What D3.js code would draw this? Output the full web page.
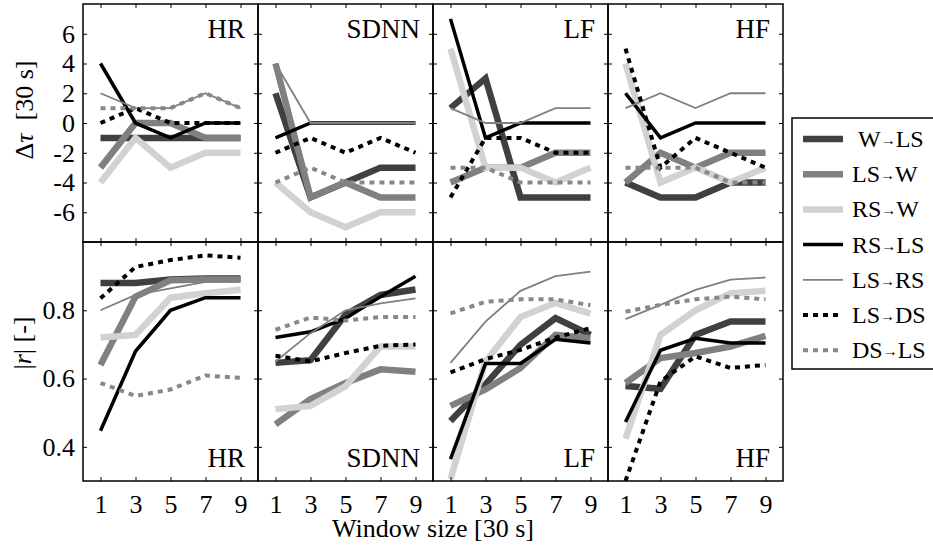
<!DOCTYPE html>
<html>
<head>
<meta charset="utf-8">
<script src="https://cdn.jsdelivr.net/npm/d3@7"></script>
<style>
  body { margin: 0; background: #fff; }
  .tick line { stroke: #000; stroke-width: 1; }
</style>
</head>
<body>
<div class="svg-container"></div>
<script>
// window sizes (x axis) and the four measures
var windows = [1, 3, 5, 7, 9];
var measures = ["HR", "SDNN", "LF", "HF"];
var series = ["W→LS", "LS→W", "RS→W", "RS→LS", "LS→RS", "LS→DS", "DS→LS"];

var tauTicks = [-6, -4, -2, 0, 2, 4, 6];
var rTicks = [0.4, 0.6, 0.8];

// delta tau [30 s], one row per series (same order as series)
var tauHR = [
  [-1, -1, -1, -1, -1],
  [-3, 0, 0, -1, -1],
  [-4, -1, -3, -2, -2],
  [4, 0, -1, 0, 0],
  [2, 1, 1, 2, 1],
  [0, 1, 0, 0, 0],
  [1, 1, 1, 2, 1]
];
var tauSDNN = [
  [2, -5, -4, -3, -3],
  [4, -5, -4, -5, -5],
  [-4, -6, -7, -6, -6],
  [-1, 0, 0, 0, 0],
  [4, 0, 0, 0, 0],
  [-2, -1, -2, -1, -2],
  [-4, -3, -4, -4, -4]
];
var tauLF = [
  [1, 3, -5, -5, -5],
  [-4, -3, -3, -2, -2],
  [5, -3, -3, -4, -3],
  [7, -1, 0, 0, 0],
  [1, 0, 0, 1, 1],
  [-5, -1, -1, -2, -2],
  [-3, -3, -4, -4, -4]
];
var tauHF = [
  [-4, -5, -5, -4, -4],
  [-4, -2, -3, -2, -2],
  [4, -4, -3, -4, -3],
  [2, -1, 0, 0, 0],
  [1, 2, 1, 2, 2],
  [5, -3, -1, -2, -3],
  [-3, -3, -3, -4, -4]
];

// |r| [-]
var rHR = [
  [0.88, 0.88, 0.89, 0.893, 0.893],
  [0.64, 0.84, 0.888, 0.89, 0.89],
  [0.72, 0.728, 0.837, 0.85, 0.86],
  [0.447, 0.68, 0.80, 0.837, 0.837],
  [0.80, 0.845, 0.864, 0.883, 0.883],
  [0.835, 0.927, 0.947, 0.961, 0.954],
  [0.587, 0.549, 0.568, 0.609, 0.602]
];
var rSDNN = [
  [0.646, 0.654, 0.787, 0.845, 0.861],
  [0.466, 0.54, 0.587, 0.627, 0.62],
  [0.51, 0.52, 0.578, 0.694, 0.694],
  [0.72, 0.737, 0.776, 0.84, 0.90],
  [0.65, 0.733, 0.80, 0.82, 0.835],
  [0.667, 0.65, 0.675, 0.696, 0.70],
  [0.743, 0.779, 0.77, 0.78, 0.78]
];
var rLF = [
  [0.476, 0.583, 0.699, 0.777, 0.728],
  [0.52, 0.568, 0.631, 0.728, 0.718],
  [0.306, 0.65, 0.78, 0.822, 0.79],
  [0.364, 0.644, 0.644, 0.715, 0.704],
  [0.646, 0.767, 0.857, 0.90, 0.913],
  [0.618, 0.657, 0.684, 0.72, 0.748],
  [0.791, 0.825, 0.832, 0.832, 0.815]
];
var rHF = [
  [0.578, 0.57, 0.728, 0.767, 0.767],
  [0.587, 0.66, 0.675, 0.694, 0.725],
  [0.424, 0.728, 0.80, 0.85, 0.857],
  [0.473, 0.683, 0.718, 0.704, 0.704],
  [0.774, 0.816, 0.86, 0.89, 0.896],
  [0.30, 0.592, 0.665, 0.631, 0.64],
  [0.796, 0.816, 0.832, 0.84, 0.832]
];

var tauData = [tauHR, tauSDNN, tauLF, tauHF];
var rData = [rHR, rSDNN, rLF, rHF];

// line look per series
var styles = [
  { color: "#404040", width: 6.5, dash: null },
  { color: "#808080", width: 6.5, dash: null },
  { color: "#d2d2d2", width: 6.5, dash: null },
  { color: "#000000", width: 3.5, dash: null },
  { color: "#808080", width: 1.8, dash: null },
  { color: "#000000", width: 4, dash: "5,5" },
  { color: "#888888", width: 4, dash: "5,5" }
];

var FONT = "'Liberation Serif', 'Times New Roman', serif";
var width = 933, height = 548;
var left = 83, panelW = 175;
var topY = 4, midY = 242, botY = 481;

var svg = d3.select(".svg-container").append("svg")
  .attr("width", width)
  .attr("height", height)
  .style("font-family", FONT);

var yTau = d3.scaleLinear().domain([-8, 8]).range([midY, topY]);
var yR = d3.scaleLinear().domain([0.3, 1.0]).range([botY, midY]);

// d3 axis puts sans-serif on its group, replace it
function plain(g) {
  g.attr("font-family", null).attr("font-size", null);
  g.select(".domain").remove();
  g.selectAll(".tick text")
    .style("font-family", FONT)
    .style("font-size", "26px")
    .attr("fill", "#000");
}

function drawPanel(col, row) {
  var x0 = left + col * panelW;
  var x = d3.scaleLinear().domain([0, 10]).range([x0, x0 + panelW]);
  var y = row == 0 ? yTau : yR;
  var data = row == 0 ? tauData[col] : rData[col];
  var yTicks = row == 0 ? tauTicks : rTicks;
  var pTop = row == 0 ? topY : midY;
  var pBot = row == 0 ? midY : botY;

  var clipId = "clip-" + col + "-" + row;
  svg.append("clipPath").attr("id", clipId)
    .append("rect")
    .attr("x", x0).attr("y", pTop)
    .attr("width", panelW).attr("height", pBot - pTop);

  var line = d3.line()
    .x(function(d, i) { return x(windows[i]); })
    .y(function(d) { return y(d); });

  var g = svg.append("g").attr("clip-path", "url(#" + clipId + ")");
  data.forEach(function(vals, s) {
    var st = styles[s];
    g.append("path")
      .datum(vals)
      .attr("d", line)
      .attr("fill", "none")
      .attr("stroke", st.color)
      .attr("stroke-width", st.width)
      .attr("stroke-dasharray", st.dash)
      .attr("stroke-linejoin", "miter");
  });

  // ticks pointing inward on all four sides
  var bottom = svg.append("g")
    .attr("transform", "translate(0," + pBot + ")")
    .call(d3.axisBottom(x).tickValues(windows).tickSize(-4)
      .tickFormat(row == 1 ? d3.format("d") : ""))
    .call(plain);
  bottom.selectAll(".tick text").attr("dy", null).attr("y", 32);

  svg.append("g")
    .attr("transform", "translate(0," + pTop + ")")
    .call(d3.axisTop(x).tickValues(windows).tickSize(-4).tickFormat(""))
    .call(plain);

  svg.append("g")
    .attr("transform", "translate(" + x0 + ",0)")
    .call(d3.axisLeft(y).tickValues(yTicks).tickSize(-4).tickPadding(8)
      .tickFormat(col == 0 ? function(d) { return String(d); } : ""))
    .call(plain);

  svg.append("g")
    .attr("transform", "translate(" + (x0 + panelW) + ",0)")
    .call(d3.axisRight(y).tickValues(yTicks).tickSize(-4).tickFormat(""))
    .call(plain);

  // frame
  svg.append("rect")
    .attr("x", x0).attr("y", pTop)
    .attr("width", panelW).attr("height", pBot - pTop)
    .attr("fill", "none")
    .attr("stroke", "#000")
    .attr("stroke-width", 1.5);

  // measure name
  svg.append("text")
    .attr("x", x0 + panelW - 13)
    .attr("y", row == 0 ? pTop + 34 : pBot - 14)
    .attr("text-anchor", "end")
    .style("font-family", FONT)
    .style("font-size", "27px")
    .text(measures[col]);
}

for (var r = 0; r < 2; r++) {
  for (var c = 0; c < 4; c++) {
    drawPanel(c, r);
  }
}

// Y axis labels
var yl1 = svg.append("text")
  .attr("transform", "translate(33,110) rotate(-90)")
  .attr("text-anchor", "middle")
  .style("font-family", FONT)
  .style("font-size", "26px");
yl1.append("tspan").text("Δ");
yl1.append("tspan").style("font-style", "italic").text("τ");
yl1.append("tspan").attr("xml:space", "preserve").text("  [30 s]");

var yl2 = svg.append("text")
  .attr("transform", "translate(31,343) rotate(-90)")
  .attr("text-anchor", "middle")
  .style("font-family", FONT)
  .style("font-size", "26px");
yl2.append("tspan").text("|");
yl2.append("tspan").style("font-style", "italic").text("r");
yl2.append("tspan").text("| [-]");

// X axis label
svg.append("text")
  .attr("x", left + 2 * panelW)
  .attr("y", 537)
  .attr("text-anchor", "middle")
  .style("font-family", FONT)
  .style("font-size", "26px")
  .text("Window size [30 s]");

// Legend
var lg = svg.append("g");
lg.append("rect")
  .attr("x", 792).attr("y", 118)
  .attr("width", 150).attr("height", 251)
  .attr("fill", "#fff")
  .attr("stroke", "#000")
  .attr("stroke-width", 1.5);

series.forEach(function(name, i) {
  var st = styles[i];
  var yy = 139 + i * 35.2;
  var parts = name.split("→");
  lg.append("line")
    .attr("x1", 803).attr("x2", 843)
    .attr("y1", yy).attr("y2", yy)
    .attr("stroke", st.color)
    .attr("stroke-width", st.width)
    .attr("stroke-dasharray", st.dash);
  var t = lg.append("text")
    .attr("x", i == 0 ? 858 : 852)
    .attr("y", yy + 8)
    .style("font-family", FONT)
    .style("font-size", "24px");
  t.append("tspan").text(parts[0]);
  t.append("tspan").style("font-size", "15px").attr("dy", -2).text("→");
  t.append("tspan").attr("dy", 2).text(parts[1]);
});
</script>
</body>
</html>
